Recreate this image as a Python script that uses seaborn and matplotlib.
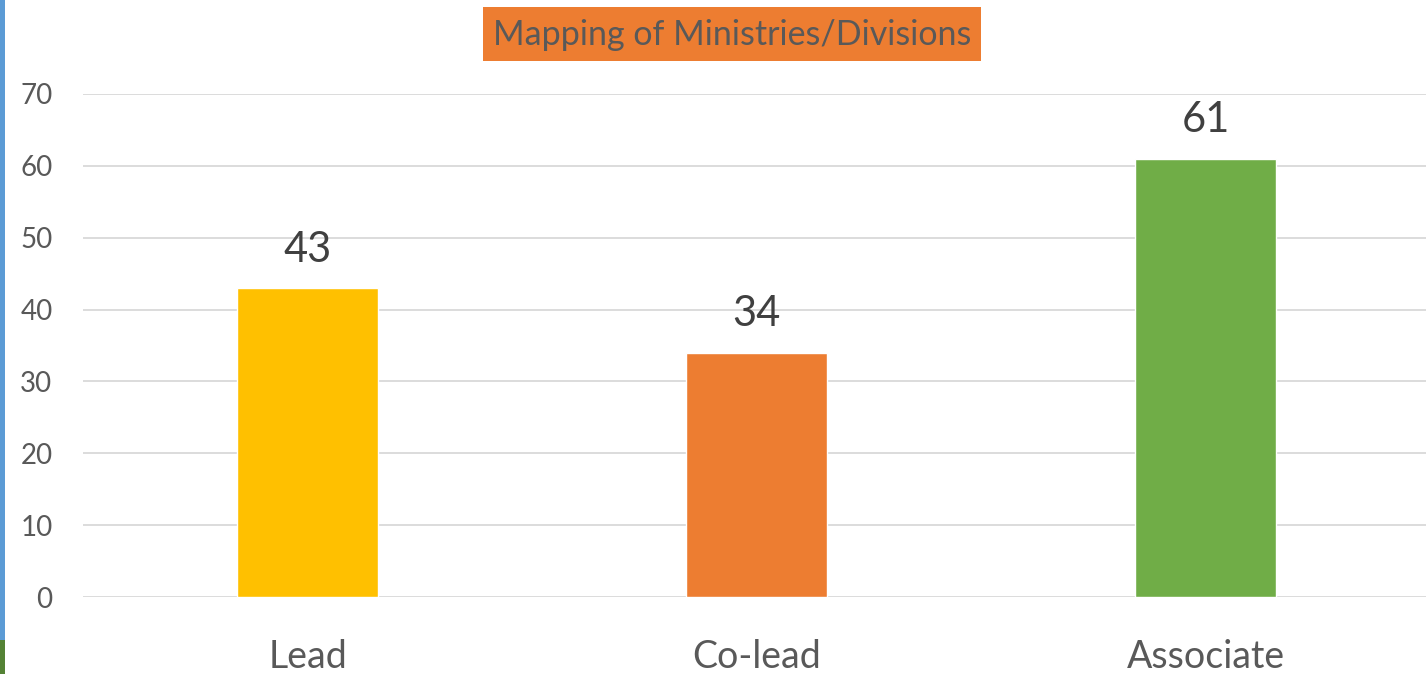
import matplotlib
matplotlib.use("Agg")
import matplotlib.pyplot as plt
import seaborn as sns
import pandas as pd
from matplotlib.patches import Rectangle

categories = ["Lead", "Co-lead", "Associate"]
counts = [43, 34, 61]
bar_colors = ["#FFC000", "#ED7D31", "#70AD47"]
title = "Mapping of Ministries/Divisions"
y_ticks = [0, 10, 20, 30, 40, 50, 60, 70]

df = pd.DataFrame({"role": categories, "count": counts})

sns.set_theme(style="white")
plt.rcParams["font.family"] = ["Lato", "DejaVu Sans"]

W, H = 1426, 674
fig = plt.figure(figsize=(W / 100, H / 100), dpi=100)
# axes box in pixels: left 83, right 1430, y=0 at 597, y=70 at 94
ax = fig.add_axes([83 / W, (H - 597) / H, (1430 - 83) / W, (597 - 94) / H])

sns.barplot(data=df, x="role", y="count", hue="role", palette=bar_colors,
            width=0.314, legend=False, ax=ax, saturation=1)

ax.set_xlim(-0.5, 2.5)
ax.set_ylim(0, 70)
ax.set_yticks(y_ticks)
ax.yaxis.grid(True, color="#D9D9D9", linewidth=1.3)
ax.set_axisbelow(True)
for s in ax.spines.values():
    s.set_visible(False)
ax.tick_params(axis="y", length=0, pad=22, labelsize=20, labelcolor="#595959")
ax.tick_params(axis="x", length=0, pad=30, labelsize=27, labelcolor="#595959")
ax.set_xlabel("")
ax.set_ylabel("")

for cont in ax.containers:
    ax.bar_label(cont, padding=14, fontsize=30, color="#404040")

# title box
fig.patches.append(Rectangle((483 / W, 1 - 61 / H), (981 - 483) / W, 54 / H,
                             transform=fig.transFigure, facecolor="#ED7D31",
                             edgecolor="none", zorder=0))
fig.text(732 / W, 1 - 35 / H, title, ha="center", va="center",
         fontsize=24.5, color="#595959")

# slide edge strips on the left
fig.patches.append(Rectangle((0, 1 - 640 / H), 5 / W, 640 / H,
                             transform=fig.transFigure, facecolor="#5B9BD5",
                             edgecolor="none"))
fig.patches.append(Rectangle((0, 0), 5 / W, 34 / H,
                             transform=fig.transFigure, facecolor="#548235",
                             edgecolor="none"))

fig.savefig("out.png", dpi=100)
